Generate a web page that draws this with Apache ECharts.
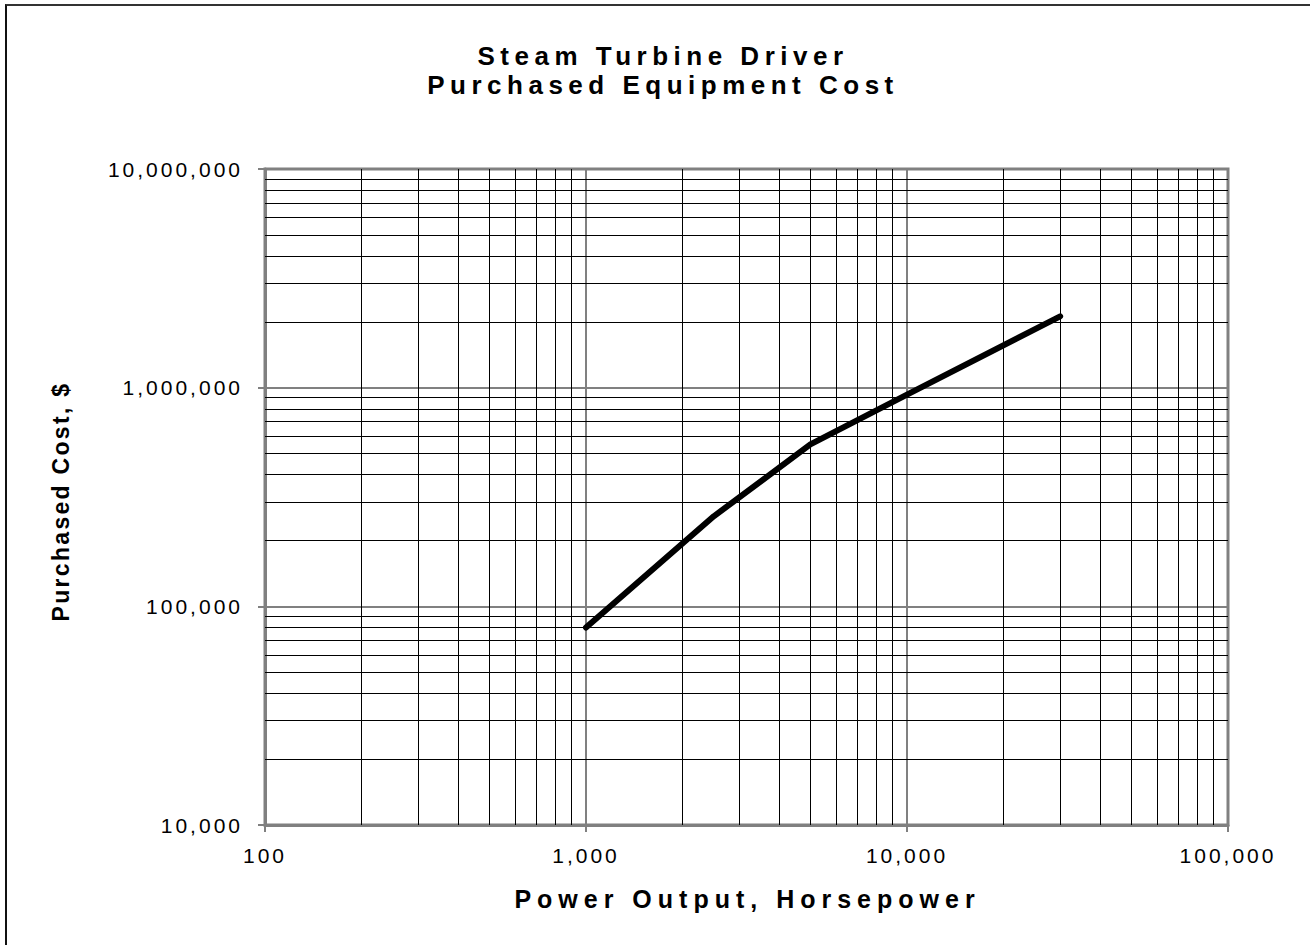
<!DOCTYPE html>
<html>
<head>
<meta charset="utf-8">
<title>Steam Turbine Driver - Purchased Equipment Cost</title>
<script src="https://cdn.jsdelivr.net/npm/echarts@6/dist/echarts.min.js"></script>
<style>
  html, body { margin: 0; padding: 0; background: #fff; }
  #wrap { position: relative; width: 1310px; height: 945px; overflow: hidden; }
  #chart { position: absolute; left: 0; top: 0; width: 1310px; height: 945px; }
  #frame {
    position: absolute; left: 5px; top: 4px; right: -4px; bottom: -4px;
    border-left: 2px solid #111; border-top: 2px solid #333;
    pointer-events: none;
  }
</style>
</head>
<body>
<div id="wrap">
  <div id="chart"></div>
  <div id="frame"></div>
</div>
<script>
// Cost curve: purchased cost ($) against power output (hp)
const powerHp = [1000, 2500, 5000, 10000, 30000];
const costUsd = [80000, 258000, 550000, 930000, 2120000];

// Decade ticks and their labels
const xTicks = [100, 1000, 10000, 100000];
const xTickLabels = ['100', '1,000', '10,000', '100,000'];
const yTicks = [10000, 100000, 1000000, 10000000];
const yTickLabels = ['10,000', '100,000', '1,000,000', '10,000,000'];

// Intermediate log-grid values (2..9 within each decade)
const xMinorGrid = [200, 300, 400, 500, 600, 700, 800, 900,
                    2000, 3000, 4000, 5000, 6000, 7000, 8000, 9000,
                    20000, 30000, 40000, 50000, 60000, 70000, 80000, 90000];
const yMinorGrid = [20000, 30000, 40000, 50000, 60000, 70000, 80000, 90000,
                    200000, 300000, 400000, 500000, 600000, 700000, 800000, 900000,
                    2000000, 3000000, 4000000, 5000000, 6000000, 7000000, 8000000, 9000000];

const titleLines = ['Steam Turbine Driver', 'Purchased Equipment Cost'];
const xName = 'Power Output, Horsepower';
const yName = 'Purchased Cost, $';

const FONT = '"Liberation Sans", Arial, sans-serif';

function lookupLabel(ticks, labels, v) {
  let best = 0, bestD = Infinity;
  ticks.forEach((t, i) => {
    const d = Math.abs(Math.log10(t) - Math.log10(v));
    if (d < bestD) { bestD = d; best = i; }
  });
  return bestD < 1e-6 ? labels[best] : '';
}

const chart = echarts.init(document.getElementById('chart'), null, { renderer: 'svg' });

const option = {
  animation: false,
  backgroundColor: '#fff',
  title: {
    text: titleLines.join('\n'),
    left: 663,
    top: 41,
    textAlign: 'center',
    padding: 0,
    textStyle: {
      fontFamily: FONT, fontSize: 26, fontWeight: 'bold',
      color: '#000', lineHeight: 29
    }
  },
  grid: {
    left: 265, right: 82, top: 169, bottom: 120,
    show: true, borderColor: '#808080', borderWidth: 3,
    backgroundColor: 'transparent'
  },
  xAxis: {
    type: 'log', logBase: 10, min: 100, max: 100000,
    name: xName, nameLocation: 'middle', nameGap: 61,
    nameTextStyle: { fontFamily: FONT, fontSize: 25, fontWeight: 'bold', color: '#000', padding: [0, 0, 0, 2] },
    axisLine: { show: true, lineStyle: { color: '#808080', width: 3 } },
    axisTick: { show: true, inside: false, length: 7, lineStyle: { color: '#808080', width: 2 } },
    axisLabel: {
      margin: 20, fontFamily: FONT, fontSize: 21, color: '#000',
      formatter: v => lookupLabel(xTicks, xTickLabels, v)
    },
    splitLine: { show: true, lineStyle: { color: '#808080', width: 2 } }
  },
  yAxis: {
    type: 'log', logBase: 10, min: 10000, max: 10000000,
    name: yName, nameLocation: 'middle', nameGap: 193,
    nameTextStyle: { fontFamily: FONT, fontSize: 23, fontWeight: 'bold', color: '#000', padding: [0, 9, 0, 0] },
    axisLine: { show: true, lineStyle: { color: '#808080', width: 3 } },
    axisTick: { show: true, inside: false, length: 7, lineStyle: { color: '#808080', width: 2 } },
    axisLabel: {
      margin: 22, fontFamily: FONT, fontSize: 21, color: '#000',
      formatter: v => lookupLabel(yTicks, yTickLabels, v)
    },
    splitLine: { show: true, lineStyle: { color: '#808080', width: 2 } }
  },
  series: [
    {
      // minor log grid
      type: 'line',
      data: [],
      silent: true,
      z: 1,
      markLine: {
        silent: true,
        symbol: ['none', 'none'],
        label: { show: false },
        lineStyle: { color: '#000', width: 1, type: 'solid' },
        emphasis: { disabled: true },
        animation: false,
        data: xMinorGrid.map(v => ({ xAxis: v }))
          .concat(yMinorGrid.map(v => ({ yAxis: v })))
      }
    },
    {
      name: 'Purchased Cost',
      type: 'line',
      z: 5,
      data: powerHp.map((p, i) => [p, costUsd[i]]),
      showSymbol: false,
      symbol: 'none',
      lineStyle: { color: '#000', width: 6, cap: 'round', join: 'round' }
    }
  ]
};

chart.setOption(option);

// Character spacing for the wide-tracked texts
const spacing = new Map();
titleLines.forEach(t => spacing.set(t, 5.5));
spacing.set(xName, 6.0);
spacing.set(yName, 2.3);
xTickLabels.concat(yTickLabels).forEach(t => spacing.set(t, 3));

function applySpacing() {
  document.querySelectorAll('#chart svg text').forEach(el => {
    const s = spacing.get(el.textContent);
    if (s !== undefined) el.setAttribute('letter-spacing', s);
  });
}
applySpacing();
chart.on('finished', applySpacing);
setTimeout(applySpacing, 50);
</script>
</body>
</html>
